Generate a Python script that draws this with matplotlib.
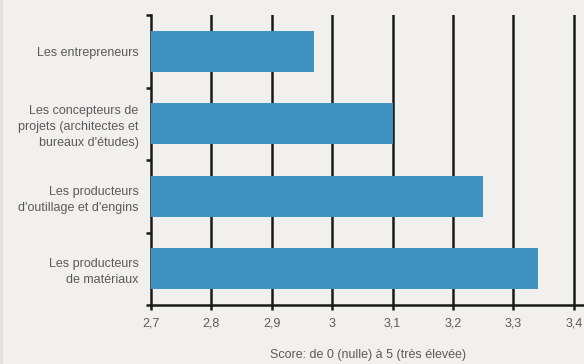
import matplotlib.pyplot as plt
from matplotlib.patches import Rectangle

categories = ["Les entrepreneurs",
              "Les concepteurs de\nprojets (architectes et\nbureaux d'études)",
              "Les producteurs\nd'outillage et d'engins",
              "Les producteurs\nde matériaux"]
scores = [2.97, 3.10, 3.25, 3.34]
xticks = [2.7, 2.8, 2.9, 3.0, 3.1, 3.2, 3.3, 3.4]
xtick_labels = ["2,7", "2,8", "2,9", "3", "3,1", "3,2", "3,3", "3,4"]

BG = "#f2f0ee"
BAR = "#4093c0"
TXT = "#5a5a5a"
INK = "#1a1a1a"

plt.rcParams["font.family"] = ["Liberation Sans", "DejaVu Sans"]

fig = plt.figure(figsize=(5.84, 3.64), dpi=100, facecolor=BG)
# thin darker strip down the left edge
fig.patches.append(Rectangle((0, 0), 3 / 584, 1, transform=fig.transFigure,
                             facecolor="#e6e1dd", edgecolor="none"))

ax = fig.add_axes([151 / 584, 1 - 305 / 364, 1 - 151 / 584, (305 - 15) / 364])
ax.set_facecolor(BG)

pos = list(range(len(categories)))
ax.barh(pos, scores, height=0.56, color=BAR, zorder=3)

ax.set_xlim(2.7, 2.7 + (584 - 151) / 604)
ax.set_ylim(len(categories) - 0.5, -0.5)

ax.set_xticks(xticks)
ax.set_xticklabels(xtick_labels, color=TXT, fontsize=9)
for lbl in ax.get_xticklabels():
    lbl.set_verticalalignment("baseline")
for x in xticks[1:]:
    ax.axvline(x, color=INK, lw=1.8, zorder=2)

ax.set_yticks([p - 0.5 for p in pos] + [len(categories) - 0.5])
ax.set_yticklabels([])
ax.set_yticks(pos, minor=True)
ax.set_yticklabels(categories, minor=True, color=TXT, fontsize=9,
                   ha="right", linespacing=1.45)
ax.tick_params(axis="y", which="minor", length=0, pad=9)
ax.tick_params(axis="y", which="major", length=3.6, width=1.8, color=INK)
ax.tick_params(axis="x", length=3.6, width=1.8, color=INK, pad=12)

for side in ["top", "right"]:
    ax.spines[side].set_visible(False)
for side in ["left", "bottom"]:
    ax.spines[side].set_color(INK)
    ax.spines[side].set_linewidth(1.8)

ax.set_xlabel("Score: de 0 (nulle) à 5 (très élevée)", color=TXT,
              fontsize=9, labelpad=14)

fig.savefig("out.png", dpi=100, facecolor=BG)
